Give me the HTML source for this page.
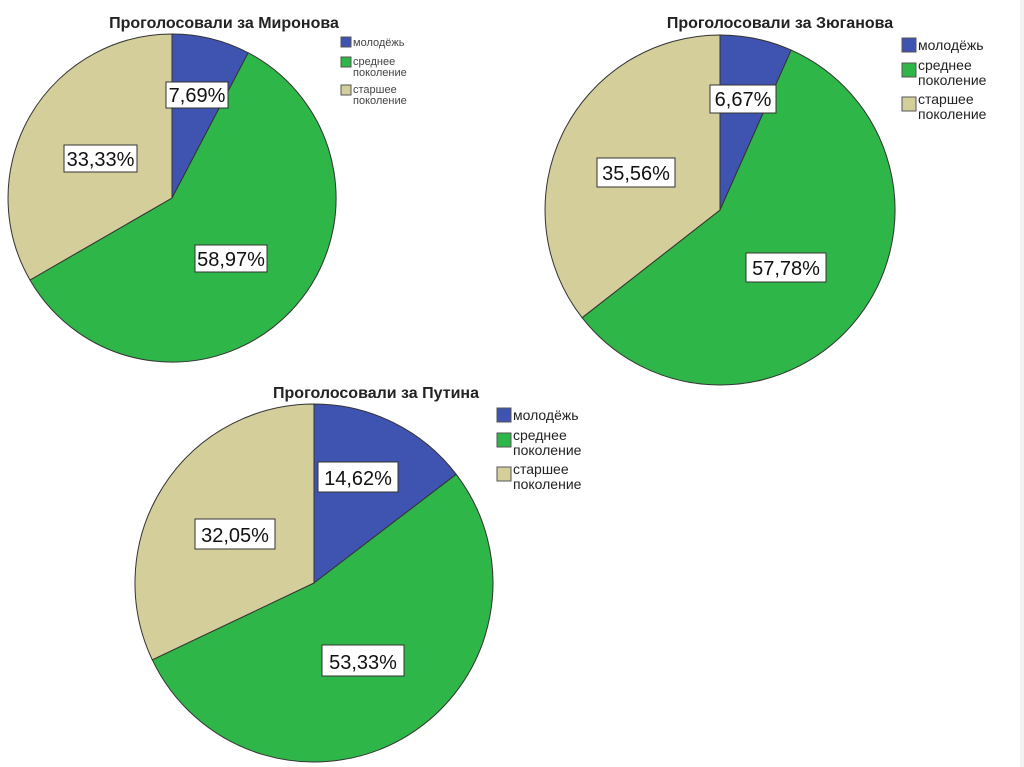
<!DOCTYPE html>
<html><head><meta charset="utf-8"><style>
body{margin:0;width:1024px;height:767px;background:#fff;overflow:hidden;font-family:"Liberation Sans",sans-serif}
svg{position:absolute;left:0;top:0}
text{font-family:"Liberation Sans",sans-serif}
.t{font-weight:bold;font-size:16px;fill:#222}
.l{font-size:20px;fill:#111}
</style></head><body>
<svg width="1024" height="767" viewBox="0 0 1024 767">
<rect x="1020" y="0" width="4" height="767" fill="#f2f2f2"/>
<g stroke="#333" stroke-width="1">
<path d="M172,198 L172,34 A164,164 0 0 1 248.2,52.8 Z" fill="#3f54b0"/>
<path d="M172,198 L248.2,52.8 A164,164 0 1 1 30,280 Z" fill="#2fb648"/>
<path d="M172,198 L30,280 A164,164 0 0 1 172,34 Z" fill="#d4cf9a"/>
<path d="M720,210 L720,35 A175,175 0 0 1 791.2,50.1 Z" fill="#3f54b0"/>
<path d="M720,210 L791.2,50.1 A175,175 0 1 1 582.1,317.7 Z" fill="#2fb648"/>
<path d="M720,210 L582.1,317.7 A175,175 0 0 1 720,35 Z" fill="#d4cf9a"/>
<path d="M314,583 L314,404 A179,179 0 0 1 456.2,474.3 Z" fill="#3f54b0"/>
<path d="M314,583 L456.2,474.3 A179,179 0 1 1 152.3,659.8 Z" fill="#2fb648"/>
<path d="M314,583 L152.3,659.8 A179,179 0 0 1 314,404 Z" fill="#d4cf9a"/>
</g>
<g fill="#fff" stroke="#333" stroke-width="1">
<rect x="166" y="82" width="62" height="26"/>
<rect x="64" y="145" width="73" height="27"/>
<rect x="195" y="245" width="72" height="27"/>
<rect x="710" y="85" width="66" height="28"/>
<rect x="597" y="158" width="78" height="29"/>
<rect x="746" y="253" width="80" height="29"/>
<rect x="318" y="462" width="80" height="30"/>
<rect x="195" y="519" width="80" height="30"/>
<rect x="322" y="645" width="82" height="31"/>
</g>
<g class="l" text-anchor="middle">
<text x="197" y="102">7,69%</text>
<text x="100.5" y="166">33,33%</text>
<text x="231" y="266">58,97%</text>
<text x="743" y="106">6,67%</text>
<text x="636" y="180">35,56%</text>
<text x="786" y="275">57,78%</text>
<text x="358" y="485">14,62%</text>
<text x="235" y="542">32,05%</text>
<text x="363" y="669">53,33%</text>
</g>
<g class="t" text-anchor="middle">
<text x="224" y="28">Проголосовали за Миронова</text>
<text x="780" y="28">Проголосовали за Зюганова</text>
<text x="376" y="398">Проголосовали за Путина</text>
</g>
<g stroke="#555" stroke-width="1">
<rect x="341" y="37" width="10" height="10" fill="#3f54b0"/>
<rect x="341" y="57" width="10" height="10" fill="#2fb648"/>
<rect x="341" y="85" width="10" height="10" fill="#d4cf9a"/>
<rect x="902" y="38" width="14" height="14" fill="#3f54b0"/>
<rect x="902" y="63" width="14" height="14" fill="#2fb648"/>
<rect x="902" y="97" width="14" height="14" fill="#d4cf9a"/>
<rect x="497" y="408" width="14" height="14" fill="#3f54b0"/>
<rect x="497" y="433" width="14" height="14" fill="#2fb648"/>
<rect x="497" y="467" width="14" height="14" fill="#d4cf9a"/>
</g>
<g font-size="11" fill="#444">
<text x="353" y="46">молодёжь</text>
<text x="353" y="65">среднее</text>
<text x="353" y="76">поколение</text>
<text x="353" y="93">старшее</text>
<text x="353" y="104">поколение</text>
</g>
<g font-size="14" fill="#222">
<text x="918" y="50">молодёжь</text>
<text x="918" y="70">среднее</text>
<text x="918" y="85">поколение</text>
<text x="918" y="104">старшее</text>
<text x="918" y="119">поколение</text>
<text x="513" y="420">молодёжь</text>
<text x="513" y="440">среднее</text>
<text x="513" y="455">поколение</text>
<text x="513" y="474">старшее</text>
<text x="513" y="489">поколение</text>
</g>
</svg>
</body></html>
